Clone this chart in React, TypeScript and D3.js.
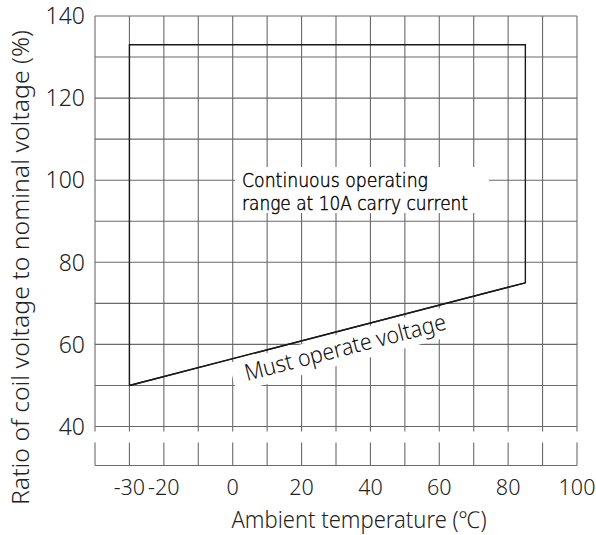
import React from "react";
import * as d3 from "d3";

const xGrid = [-40, -30, -20, -10, 0, 10, 20, 30, 40, 50, 60, 70, 80, 90, 100];
const xLabels = [-30, -20, 0, 20, 40, 60, 80, 100];
const yGrid = [40, 50, 60, 70, 80, 90, 100, 110, 120, 130, 140];
const yLabels = [40, 60, 80, 100, 120, 140];

// Continuous operating range outline (temperature, voltage %)
const rangeTemp = [-30, -30, 85, 85, -30];
const rangeVolt = [50, 133, 133, 75, 50];

// Must operate voltage line
const mustTemp = [-30, 85];
const mustVolt = [50, 75];

const W = 596;
const H = 535;
const FONT = "'Noto Sans', 'DejaVu Sans', sans-serif";
const BLOCK_FONT = "'DejaVu Sans', 'Noto Sans', sans-serif";

export default function App() {
  const x = d3.scaleLinear().domain([-40, 100]).range([95, 577]);
  const y = d3.scaleLinear().domain([40, 140]).range([426.5, 16]);

  const gapTop = y(40) + 5;
  const gapBottom = y(40) + 16;
  const axisY = y(40) + 39;

  const rangePts: [number, number][] = rangeTemp.map((t, i) => [t, rangeVolt[i]]);
  const mustPts: [number, number][] = mustTemp.map((t, i) => [t, mustVolt[i]]);
  const line = d3
    .line<[number, number]>()
    .x((d) => x(d[0]))
    .y((d) => y(d[1]));

  const angle =
    (Math.atan2(y(mustVolt[1]) - y(mustVolt[0]), x(mustTemp[1]) - x(mustTemp[0])) * 180) /
    Math.PI;

  const gridColor = "#6a6a6a";
  const lineColor = "#1a1a1a";

  return (
    <svg
      width={W}
      height={H}
      style={{ position: "absolute", left: 0, top: 0, background: "#fff" }}
      fontFamily={FONT}
      fontWeight={300}
    >
      <rect width={W} height={H} fill="#fff" />
      {/* vertical grid */}
      {xGrid.map((v) => (
        <g key={"vx" + v}>
          <line x1={x(v)} x2={x(v)} y1={y(140)} y2={gapTop} stroke={gridColor} strokeWidth={1.1} />
          <line x1={x(v)} x2={x(v)} y1={gapBottom} y2={axisY} stroke={gridColor} strokeWidth={1.1} />
        </g>
      ))}
      {/* horizontal grid */}
      {yGrid.map((v) => (
        <line key={"hy" + v} x1={x(-40)} x2={x(100)} y1={y(v)} y2={y(v)} stroke={gridColor} strokeWidth={1.1} />
      ))}
      <line x1={x(-40)} x2={x(100)} y1={axisY} y2={axisY} stroke={gridColor} strokeWidth={1.1} />

      {/* white label backgrounds */}
      <rect x={235} y={167} width={254} height={46} fill="#fff" />
      <g transform={`translate(247,381) rotate(${angle})`}>
        <rect x={-13} y={-22} width={230} height={30} fill="#fff" />
      </g>

      {/* range outline */}
      <path d={line(rangePts) || ""} fill="none" stroke={lineColor} strokeWidth={1.4} />
      <path d={line(mustPts) || ""} fill="none" stroke={lineColor} strokeWidth={1.4} />

      {/* labels */}
      <text x={242} y={187} fontFamily={BLOCK_FONT} fontWeight={200} fontSize={19.5} fill="#000" stroke="#000" strokeWidth={0.45} textLength={186} lengthAdjust="spacingAndGlyphs">
        Continuous operating
      </text>
      <text x={242} y={210} fontFamily={BLOCK_FONT} fontWeight={200} fontSize={19.5} fill="#000" stroke="#000" strokeWidth={0.45} textLength={226} lengthAdjust="spacingAndGlyphs">
        range at 10A carry current
      </text>
      <g transform={`translate(247,381) rotate(${angle})`}>
        <text x={0} y={0} fontSize={23} fill="#111" textLength={207} lengthAdjust="spacingAndGlyphs">
          Must operate voltage
        </text>
      </g>

      {/* y tick labels */}
      {yLabels.map((v) => (
        <text key={"yl" + v} x={85} y={y(v)} dy="0.36em" textAnchor="end" fontSize={23} fill="#222">
          {v}
        </text>
      ))}
      {/* x tick labels */}
      {xLabels.map((v) => (
        <text key={"xl" + v} x={x(v)} y={495} textAnchor="middle" fontSize={21.5} fill="#222">
          {v}
        </text>
      ))}

      {/* axis titles */}
      <text x={359} y={528} textAnchor="middle" fontSize={23} fill="#222" textLength={255} lengthAdjust="spacingAndGlyphs">
        Ambient temperature (℃)
      </text>
      <text
        transform={`translate(29,267.5) rotate(-90)`}
        textAnchor="middle"
        fontSize={23}
        fill="#222"
        textLength={475}
        lengthAdjust="spacingAndGlyphs"
      >
        Ratio of coil voltage to nominal voltage (%)
      </text>
    </svg>
  );
}
